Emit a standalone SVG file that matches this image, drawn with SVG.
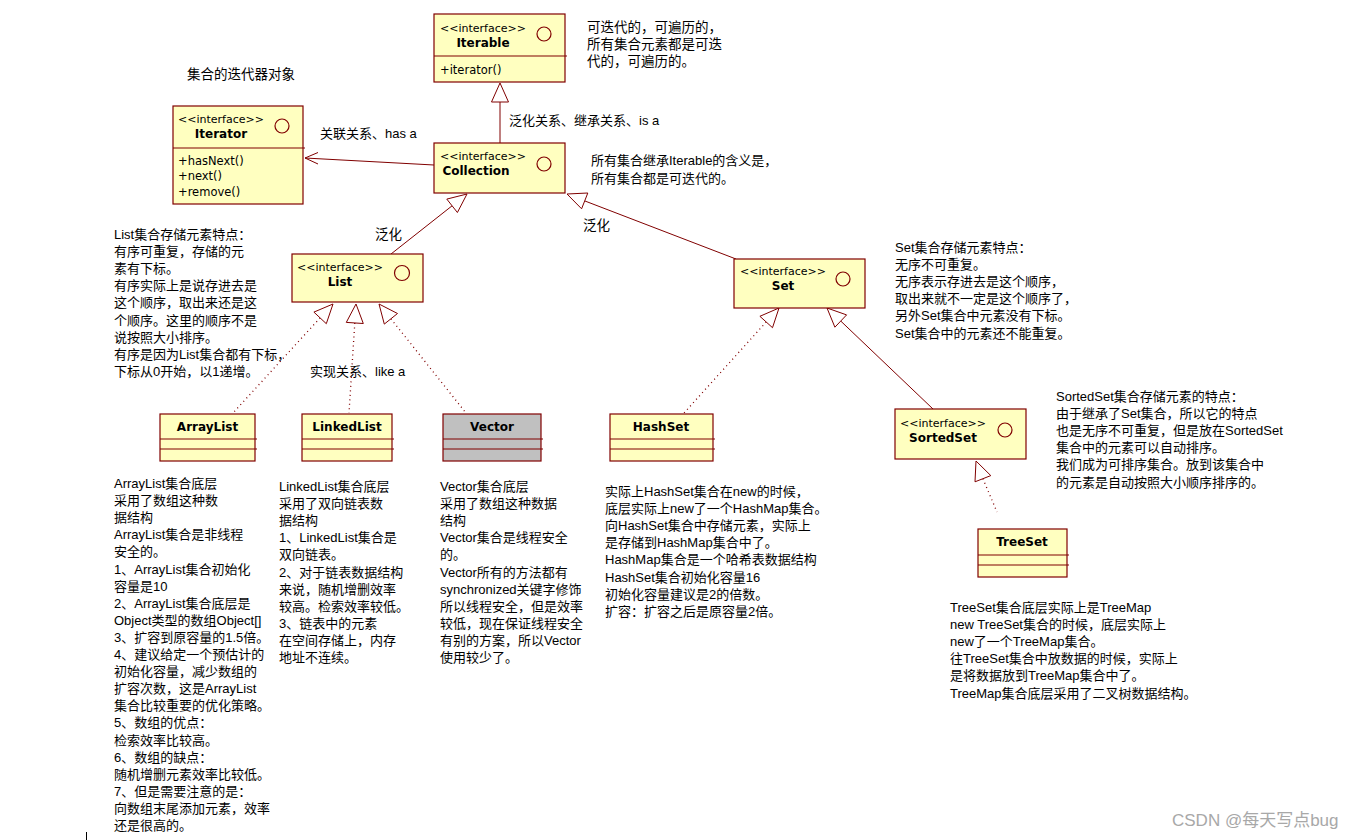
<svg xmlns="http://www.w3.org/2000/svg" width="1371" height="840" viewBox="0 0 1371 840">
<style>
.t{font-family:"Liberation Sans","Noto Sans CJK SC",sans-serif;font-size:13px;fill:#000}
.t14{font-family:"Liberation Sans","Noto Sans CJK SC",sans-serif;font-size:13.5px;fill:#000}
.box{fill:#FFFFC0;stroke:#800000;stroke-width:1.2}
.gray{fill:#C0C0C0;stroke:#800000;stroke-width:1.2}
.div{stroke:#800000;stroke-width:1.2}
.st{font-family:"DejaVu Sans",sans-serif;font-size:11px;fill:#000}
.nm{font-family:"DejaVu Sans",sans-serif;font-size:12px;font-weight:bold;fill:#000}
.me{font-family:"DejaVu Sans",sans-serif;font-size:11.5px;fill:#000}
.circ{fill:none;stroke:#800000;stroke-width:1.2}
.ln{stroke:#800000;stroke-width:1;fill:none}
.dot{stroke:#800000;stroke-width:1.3;fill:none;stroke-dasharray:1 3.5}
.tri{fill:#fff;stroke:#800000;stroke-width:1}
.wm{font-family:"Liberation Sans","Noto Sans CJK SC",sans-serif;font-size:17px;fill:#a8a8a8}
</style>
<rect width="1371" height="840" fill="#fff"/>

<g id="connectors">
  <!-- Collection -> Iterable -->
  <line class="ln" x1="500" y1="102" x2="500" y2="143"/>
  <polygon class="tri" points="500,83 491.5,102 508.5,102"/>
  <!-- Collection -> Iterator association -->
  <line class="ln" x1="434" y1="165" x2="305" y2="158"/>
  <polyline class="ln" points="318,152.5 305,158 318,164"/>
  <!-- List -> Collection -->
  <line class="ln" x1="391" y1="254" x2="452.1" y2="205.8"/>
  <polygon class="tri" points="467,194 457.4,212.5 446.8,199.1"/>
  <!-- Set -> Collection -->
  <line class="ln" x1="736" y1="259" x2="584.7" y2="200.9"/>
  <polygon class="tri" points="567,194 587.8,193 581.6,208.8"/>
  <!-- ArrayList -> List -->
  <line class="dot" x1="320.1" y1="317.9" x2="233" y2="413"/>
  <polygon class="tri" points="333,304 326.3,323.7 313.9,312.1"/>
  <!-- LinkedList -> List -->
  <line class="dot" x1="354.8" y1="323" x2="349" y2="413"/>
  <polygon class="tri" points="356,304 363.3,323.5 346.3,322.4"/>
  <!-- Vector -> List -->
  <line class="dot" x1="390.9" y1="318.8" x2="466" y2="413"/>
  <polygon class="tri" points="379,304 397.5,313.5 384.3,324.1"/>
  <!-- HashSet -> Set -->
  <line class="dot" x1="766.2" y1="322" x2="684" y2="413"/>
  <polygon class="tri" points="779,308 772.5,327.7 759.9,316.3"/>
  <!-- SortedSet -> Set -->
  <line class="ln" x1="840.8" y1="321.1" x2="933" y2="409"/>
  <polygon class="tri" points="827,308 846.6,314.9 834.9,327.2"/>
  <!-- TreeSet -> SortedSet -->
  <line class="dot" x1="982.9" y1="478.7" x2="997" y2="512"/>
  <polygon class="tri" points="976,461 990.8,475.6 975,481.8"/>
</g>

<g id="iterable">
  <rect class="box" x="434" y="14" width="131" height="68"/>
  <line class="div" x1="434" y1="56" x2="567" y2="56"/>
  <text class="st" x="483" y="32" text-anchor="middle">&lt;&lt;interface&gt;&gt;</text>
  <text class="nm" x="483" y="47" text-anchor="middle">Iterable</text>
  <circle class="circ" cx="544" cy="34" r="7"/>
  <text class="me" x="440" y="74">+iterator()</text>
</g>

<g id="iterator">
  <rect class="box" x="173" y="106" width="130" height="98"/>
  <line class="div" x1="173" y1="148" x2="305" y2="148"/>
  <text class="st" x="221" y="123" text-anchor="middle">&lt;&lt;interface&gt;&gt;</text>
  <text class="nm" x="221" y="138" text-anchor="middle">Iterator</text>
  <circle class="circ" cx="282" cy="126" r="7"/>
  <text class="me" x="178" y="165">+hasNext()</text>
  <text class="me" x="178" y="180">+next()</text>
  <text class="me" x="178" y="196">+remove()</text>
</g>

<g id="collection">
  <rect class="box" x="434" y="143" width="131" height="50"/>
  <text class="st" x="483" y="160" text-anchor="middle">&lt;&lt;interface&gt;&gt;</text>
  <text class="nm" x="476" y="175" text-anchor="middle">Collection</text>
  <circle class="circ" cx="544" cy="164" r="7"/>
</g>

<g id="list">
  <rect class="box" x="292" y="254" width="131" height="48"/>
  <text class="st" x="340" y="271" text-anchor="middle">&lt;&lt;interface&gt;&gt;</text>
  <text class="nm" x="340" y="286" text-anchor="middle">List</text>
  <circle class="circ" cx="402" cy="273" r="7.5"/>
</g>

<g id="set">
  <rect class="box" x="734" y="259" width="131" height="49"/>
  <text class="st" x="783" y="275" text-anchor="middle">&lt;&lt;interface&gt;&gt;</text>
  <text class="nm" x="783" y="290" text-anchor="middle">Set</text>
  <circle class="circ" cx="843" cy="279" r="7"/>
</g>

<g id="sortedset">
  <rect class="box" x="895" y="409" width="131" height="50"/>
  <text class="st" x="943" y="427" text-anchor="middle">&lt;&lt;interface&gt;&gt;</text>
  <text class="nm" x="943" y="442" text-anchor="middle">SortedSet</text>
  <circle class="circ" cx="1005" cy="430" r="7"/>
</g>

<g id="arraylist">
  <rect class="box" x="160" y="414" width="95" height="47"/>
  <line class="div" x1="160" y1="439" x2="257" y2="439"/>
  <line class="div" x1="160" y1="449" x2="257" y2="449"/>
  <text class="nm" x="207.5" y="431" text-anchor="middle">ArrayList</text>
</g>

<g id="linkedlist">
  <rect class="box" x="302" y="414" width="90" height="47"/>
  <line class="div" x1="302" y1="439" x2="394" y2="439"/>
  <line class="div" x1="302" y1="449" x2="394" y2="449"/>
  <text class="nm" x="347" y="431" text-anchor="middle">LinkedList</text>
</g>

<g id="vector">
  <rect class="gray" x="443" y="414" width="98" height="47"/>
  <line class="div" x1="443" y1="439" x2="543" y2="439"/>
  <line class="div" x1="443" y1="449" x2="543" y2="449"/>
  <text class="nm" x="492" y="431" text-anchor="middle">Vector</text>
</g>

<g id="hashset">
  <rect class="box" x="610" y="414" width="103" height="47"/>
  <line class="div" x1="610" y1="439" x2="715" y2="439"/>
  <line class="div" x1="610" y1="449" x2="715" y2="449"/>
  <text class="nm" x="661" y="431" text-anchor="middle">HashSet</text>
</g>

<g id="treeset">
  <rect class="box" x="978" y="529" width="89" height="48"/>
  <line class="div" x1="978" y1="555" x2="1069" y2="555"/>
  <line class="div" x1="978" y1="565" x2="1069" y2="565"/>
  <text class="nm" x="1022" y="546" text-anchor="middle">TreeSet</text>
</g>

<g id="labels">
  <text class="t14" x="187" y="79">集合的迭代器对象</text>
  <text class="t14" x="587" y="32"><tspan x="587">可迭代的，可遍历的，</tspan><tspan x="587" dy="17">所有集合元素都是可迭</tspan><tspan x="587" dy="17">代的，可遍历的。</tspan></text>
  <text class="t" x="320" y="138">关联关系、has a</text>
  <text class="t" x="509" y="125">泛化关系、继承关系、is a</text>
  <text class="t" x="591" y="165"><tspan x="591">所有集合继承Iterable的含义是，</tspan><tspan x="591" dy="17.5">所有集合都是可迭代的。</tspan></text>
  <text class="t14" x="375" y="239">泛化</text>
  <text class="t14" x="583" y="230">泛化</text>
  <text class="t" x="310" y="376">实现关系、like a</text>

  <text class="t" y="239"><tspan x="114">List集合存储元素特点：</tspan><tspan x="114" dy="17.1">有序可重复，存储的元</tspan><tspan x="114" dy="17.1">素有下标。</tspan><tspan x="114" dy="17.1">有序实际上是说存进去是</tspan><tspan x="114" dy="17.1">这个顺序，取出来还是这</tspan><tspan x="114" dy="17.1">个顺序。这里的顺序不是</tspan><tspan x="114" dy="17.1">说按照大小排序。</tspan><tspan x="114" dy="17.1">有序是因为List集合都有下标，</tspan><tspan x="114" dy="17.1">下标从0开始，以1递增。</tspan></text>

  <text class="t" y="252"><tspan x="895">Set集合存储元素特点：</tspan><tspan x="895" dy="17.1">无序不可重复。</tspan><tspan x="895" dy="17.1">无序表示存进去是这个顺序，</tspan><tspan x="895" dy="17.1">取出来就不一定是这个顺序了，</tspan><tspan x="895" dy="17.1">另外Set集合中元素没有下标。</tspan><tspan x="895" dy="17.1">Set集合中的元素还不能重复。</tspan></text>

  <text class="t" y="401"><tspan x="1056">SortedSet集合存储元素的特点：</tspan><tspan x="1056" dy="17.1">由于继承了Set集合，所以它的特点</tspan><tspan x="1056" dy="17.1">也是无序不可重复，但是放在SortedSet</tspan><tspan x="1056" dy="17.1">集合中的元素可以自动排序。</tspan><tspan x="1056" dy="17.1">我们成为可排序集合。放到该集合中</tspan><tspan x="1056" dy="17.1">的元素是自动按照大小顺序排序的。</tspan></text>

  <text class="t" y="488"><tspan x="114">ArrayList集合底层</tspan><tspan x="114" dy="17.1">采用了数组这种数</tspan><tspan x="114" dy="17.1">据结构</tspan><tspan x="114" dy="17.1">ArrayList集合是非线程</tspan><tspan x="114" dy="17.1">安全的。</tspan><tspan x="114" dy="17.1">1、ArrayList集合初始化</tspan><tspan x="114" dy="17.1">容量是10</tspan><tspan x="114" dy="17.1">2、ArrayList集合底层是</tspan><tspan x="114" dy="17.1">Object类型的数组Object[]</tspan><tspan x="114" dy="17.1">3、扩容到原容量的1.5倍。</tspan><tspan x="114" dy="17.1">4、建议给定一个预估计的</tspan><tspan x="114" dy="17.1">初始化容量，减少数组的</tspan><tspan x="114" dy="17.1">扩容次数，这是ArrayList</tspan><tspan x="114" dy="17.1">集合比较重要的优化策略。</tspan><tspan x="114" dy="17.1">5、数组的优点：</tspan><tspan x="114" dy="17.1">检索效率比较高。</tspan><tspan x="114" dy="17.1">6、数组的缺点：</tspan><tspan x="114" dy="17.1">随机增删元素效率比较低。</tspan><tspan x="114" dy="17.1">7、但是需要注意的是：</tspan><tspan x="114" dy="17.1">向数组末尾添加元素，效率</tspan><tspan x="114" dy="17.1">还是很高的。</tspan></text>

  <text class="t" y="491"><tspan x="279">LinkedList集合底层</tspan><tspan x="279" dy="17.1">采用了双向链表数</tspan><tspan x="279" dy="17.1">据结构</tspan><tspan x="279" dy="17.1">1、LinkedList集合是</tspan><tspan x="279" dy="17.1">双向链表。</tspan><tspan x="279" dy="17.1">2、对于链表数据结构</tspan><tspan x="279" dy="17.1">来说，随机增删效率</tspan><tspan x="279" dy="17.1">较高。检索效率较低。</tspan><tspan x="279" dy="17.1">3、链表中的元素</tspan><tspan x="279" dy="17.1">在空间存储上，内存</tspan><tspan x="279" dy="17.1">地址不连续。</tspan></text>

  <text class="t" y="491"><tspan x="440">Vector集合底层</tspan><tspan x="440" dy="17.1">采用了数组这种数据</tspan><tspan x="440" dy="17.1">结构</tspan><tspan x="440" dy="17.1">Vector集合是线程安全</tspan><tspan x="440" dy="17.1">的。</tspan><tspan x="440" dy="17.1">Vector所有的方法都有</tspan><tspan x="440" dy="17.1">synchronized关键字修饰</tspan><tspan x="440" dy="17.1">所以线程安全，但是效率</tspan><tspan x="440" dy="17.1">较低，现在保证线程安全</tspan><tspan x="440" dy="17.1">有别的方案，所以Vector</tspan><tspan x="440" dy="17.1">使用较少了。</tspan></text>

  <text class="t" y="496"><tspan x="605">实际上HashSet集合在new的时候，</tspan><tspan x="605" dy="17.1">底层实际上new了一个HashMap集合。</tspan><tspan x="605" dy="17.1">向HashSet集合中存储元素，实际上</tspan><tspan x="605" dy="17.1">是存储到HashMap集合中了。</tspan><tspan x="605" dy="17.1">HashMap集合是一个哈希表数据结构</tspan><tspan x="605" dy="17.1">HashSet集合初始化容量16</tspan><tspan x="605" dy="17.1">初始化容量建议是2的倍数。</tspan><tspan x="605" dy="17.1">扩容：扩容之后是原容量2倍。</tspan></text>

  <text class="t" y="612"><tspan x="950">TreeSet集合底层实际上是TreeMap</tspan><tspan x="950" dy="17.1">new TreeSet集合的时候，底层实际上</tspan><tspan x="950" dy="17.1">new了一个TreeMap集合。</tspan><tspan x="950" dy="17.1">往TreeSet集合中放数据的时候，实际上</tspan><tspan x="950" dy="17.1">是将数据放到TreeMap集合中了。</tspan><tspan x="950" dy="17.1">TreeMap集合底层采用了二叉树数据结构。</tspan></text>

  <text class="wm" x="1172" y="826">CSDN @每天写点bug</text>
  <line x1="86.5" y1="832" x2="86.5" y2="840" stroke="#000" stroke-width="1"/>
</g>
</svg>
